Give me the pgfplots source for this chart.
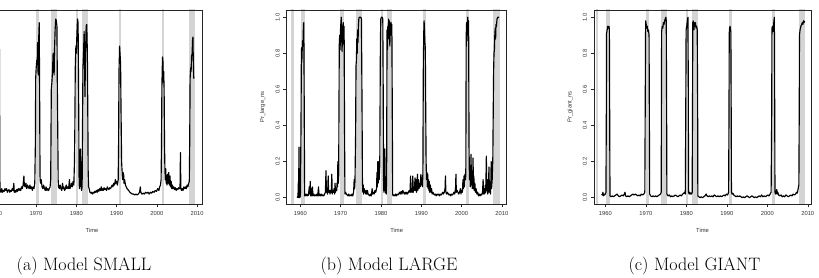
\documentclass[border=0pt]{standalone}
\usepackage{fontspec}
\usepackage{pgfplots}
\pgfplotsset{compat=1.18}
\newfontfamily\rsans{Liberation Sans}
\definecolor{band}{gray}{0.83}
\newcommand\rfont{\rsans\fontsize{5.8}{6.5}\selectfont}
\newcommand\bands{%
\addplot[fill=band, draw=none, forget plot] coordinates {(1957.6,-1) (1957.6,2) (1958.3,2) (1958.3,-1)};
\addplot[fill=band, draw=none, forget plot] coordinates {(1960.25,-1) (1960.25,2) (1961.1,2) (1961.1,-1)};
\addplot[fill=band, draw=none, forget plot] coordinates {(1969.92,-1) (1969.92,2) (1970.83,2) (1970.83,-1)};
\addplot[fill=band, draw=none, forget plot] coordinates {(1973.83,-1) (1973.83,2) (1975.17,2) (1975.17,-1)};
\addplot[fill=band, draw=none, forget plot] coordinates {(1980.0,-1) (1980.0,2) (1980.5,2) (1980.5,-1)};
\addplot[fill=band, draw=none, forget plot] coordinates {(1981.5,-1) (1981.5,2) (1982.83,2) (1982.83,-1)};
\addplot[fill=band, draw=none, forget plot] coordinates {(1990.5,-1) (1990.5,2) (1991.17,2) (1991.17,-1)};
\addplot[fill=band, draw=none, forget plot] coordinates {(2001.17,-1) (2001.17,2) (2001.83,2) (2001.83,-1)};
\addplot[fill=band, draw=none, forget plot] coordinates {(2007.92,-1) (2007.92,2) (2009.42,2) (2009.42,-1)};
}
\pgfplotsset{rpanel/.style={
  scale only axis, width=220pt, height=194pt, anchor=south west,
  ymin=-0.035, ymax=1.04,
  axis on top,
  axis line style={black!85, line width=0.6pt},
  tick align=outside, tick pos=left, major tick length=3.5pt,
  tick style={black!85, line width=0.5pt},
  xtick={1960,1970,1980,1990,2000,2010},
  xticklabels={1960,1970,1980,1990,2000,2010},
  ytick={0,0.2,0.4,0.6,0.8,1},
  yticklabels={0.0,0.2,0.4,0.6,0.8,1.0},
  ticklabel style={font=\rfont, text=black!80},
  yticklabel style={rotate=90, anchor=south},
  xlabel={Time},
  xlabel style={font=\rfont, text=black!80, at={([yshift=-26pt]axis description cs:0.5,0)}, anchor=center},
  ylabel style={font=\rfont, text=black!80, at={([xshift=-24pt]axis description cs:0,0.5)}, anchor=center},
  clip=true,
},
dline/.style={black, line width=1.15pt, line join=round, mark=none}}
\begin{document}
\begin{tikzpicture}
\useasboundingbox (0pt,0pt) rectangle (819pt,278pt);
\clip (0pt,0pt) rectangle (819pt,278pt);
% ---------------- panel (a)
\begin{axis}[rpanel, at={(-18pt,74pt)}, xmin=1956.6, xmax=2011.2, yticklabels={}]
\bands
\addplot[dline] coordinates {
(1959.0,0.05) (1959.5,0.06) (1960.0,0.1) (1960.2,0.5) (1960.3,0.8) (1960.5,0.9) (1960.7,0.95) (1960.9,0.97) (1961.05,0.08)
(1961.1,0.04) (1961.3,0.03) (1961.5,0.05) (1961.7,0.03) (1961.9,0.04) (1962.1,0.035) (1962.3,0.05) (1962.5,0.04) (1962.7,0.05) (1962.9,0.03)
(1963.1,0.04) (1963.3,0.045) (1963.5,0.03) (1963.7,0.04) (1963.9,0.035) (1964.1,0.05) (1964.3,0.04) (1964.5,0.08) (1964.6,0.03) (1964.8,0.04)
(1965.0,0.03) (1965.2,0.045) (1965.4,0.035) (1965.6,0.05) (1965.8,0.04) (1966.0,0.05) (1966.2,0.04) (1966.4,0.06) (1966.6,0.05) (1966.8,0.07)
(1967.0,0.12) (1967.1,0.07) (1967.3,0.06) (1967.5,0.08) (1967.7,0.05) (1967.9,0.07) (1968.1,0.06) (1968.3,0.05) (1968.5,0.07) (1968.7,0.05)
(1968.9,0.06) (1969.1,0.04) (1969.3,0.06) (1969.5,0.05) (1969.7,0.08) (1969.85,0.3)
(1969.92,0.66) (1970.05,0.72) (1970.2,0.76) (1970.3,0.74) (1970.4,0.86) (1970.5,0.7) (1970.6,0.68) (1970.7,0.9) (1970.8,0.97) (1970.9,0.6)
(1971.0,0.12) (1971.1,0.08) (1971.3,0.1) (1971.5,0.06) (1971.7,0.05) (1971.9,0.07) (1972.1,0.05) (1972.3,0.04) (1972.5,0.06) (1972.7,0.04)
(1972.9,0.05) (1973.1,0.04) (1973.3,0.05) (1973.5,0.06) (1973.65,0.1)
(1973.8,0.6) (1973.95,0.64) (1974.1,0.7) (1974.25,0.8) (1974.4,0.76) (1974.5,0.68) (1974.6,0.82) (1974.75,0.93) (1974.9,0.99) (1975.05,0.98)
(1975.2,0.95) (1975.3,0.62) (1975.4,0.38) (1975.5,0.1) (1975.6,0.06) (1975.8,0.05) (1976.0,0.07) (1976.2,0.05) (1976.4,0.04) (1976.6,0.08)
(1976.7,0.05) (1976.9,0.06) (1977.1,0.04) (1977.3,0.05) (1977.5,0.07) (1977.7,0.05) (1977.9,0.06) (1978.1,0.05) (1978.3,0.1) (1978.4,0.05)
(1978.6,0.06) (1978.8,0.08) (1979.0,0.06) (1979.2,0.09) (1979.4,0.07) (1979.55,0.2) (1979.65,0.4)
(1979.75,0.72) (1979.9,0.84) (1980.0,0.8) (1980.15,0.9) (1980.3,0.99) (1980.45,0.97) (1980.6,0.5) (1980.7,0.08) (1980.8,0.05) (1980.95,0.08)
(1981.05,0.27) (1981.15,0.1) (1981.3,0.04) (1981.45,0.06) (1981.55,0.4) (1981.65,0.72) (1981.8,0.8) (1981.95,0.92) (1982.05,0.75) (1982.15,0.56)
(1982.3,0.8) (1982.45,0.95) (1982.6,0.96) (1982.75,0.8) (1982.85,0.5) (1982.95,0.15) (1983.05,0.06) (1983.2,0.05) (1983.4,0.03) (1983.6,0.025)
(1983.8,0.03) (1984.0,0.02) (1984.2,0.03) (1984.4,0.025) (1984.6,0.035) (1984.8,0.03) (1985.0,0.04) (1985.2,0.03) (1985.4,0.045) (1985.6,0.035)
(1985.8,0.05) (1986.0,0.04) (1986.2,0.06) (1986.35,0.04) (1986.5,0.05) (1986.7,0.04) (1986.9,0.055) (1987.1,0.045) (1987.3,0.05) (1987.5,0.04)
(1987.7,0.06) (1987.9,0.05) (1988.1,0.045) (1988.3,0.055) (1988.5,0.05) (1988.7,0.06) (1988.9,0.07) (1989.1,0.06) (1989.3,0.08) (1989.5,0.07)
(1989.7,0.1) (1989.8,0.08) (1990.0,0.09) (1990.2,0.07) (1990.4,0.1) (1990.5,0.3)
(1990.6,0.7) (1990.75,0.84) (1990.85,0.8) (1991.0,0.74) (1991.1,0.5) (1991.25,0.2) (1991.4,0.13) (1991.5,0.1) (1991.6,0.14) (1991.75,0.13)
(1991.85,0.08) (1992.0,0.1) (1992.2,0.07) (1992.4,0.06) (1992.6,0.05) (1992.8,0.045) (1993.0,0.04) (1993.3,0.03) (1993.6,0.025) (1993.9,0.02)
(1994.2,0.02) (1994.5,0.015) (1994.8,0.02) (1995.1,0.015) (1995.4,0.02) (1995.7,0.03) (1995.9,0.06) (1996.0,0.03) (1996.3,0.02) (1996.6,0.025)
(1996.9,0.02) (1997.2,0.03) (1997.5,0.025) (1997.8,0.03) (1998.1,0.02) (1998.4,0.03) (1998.7,0.025) (1999.0,0.035) (1999.3,0.03) (1999.6,0.04)
(1999.9,0.035) (2000.2,0.05) (2000.5,0.04) (2000.7,0.06) (2000.9,0.07) (2001.05,0.1) (2001.15,0.3)
(2001.25,0.62) (2001.4,0.78) (2001.5,0.76) (2001.6,0.64) (2001.7,0.7) (2001.8,0.6) (2001.9,0.3) (2002.0,0.15) (2002.1,0.1) (2002.2,0.16)
(2002.3,0.08) (2002.4,0.12) (2002.5,0.07) (2002.65,0.13) (2002.8,0.08) (2002.95,0.14) (2003.1,0.07) (2003.25,0.12) (2003.4,0.06) (2003.55,0.09)
(2003.7,0.05) (2003.85,0.07) (2004.0,0.05) (2004.2,0.06) (2004.4,0.045) (2004.6,0.055) (2004.8,0.04) (2005.0,0.05) (2005.2,0.045) (2005.4,0.055)
(2005.6,0.05) (2005.75,0.06) (2005.85,0.25) (2005.95,0.05) (2006.1,0.04) (2006.3,0.05) (2006.5,0.04) (2006.7,0.06) (2006.9,0.05) (2007.1,0.06)
(2007.3,0.05) (2007.5,0.07) (2007.7,0.06) (2007.9,0.08) (2008.05,0.09) (2008.15,0.3)
(2008.25,0.66) (2008.4,0.72) (2008.5,0.7) (2008.6,0.78) (2008.75,0.8) (2008.85,0.87) (2008.95,0.89) (2009.05,0.75) (2009.15,0.66)
};
\end{axis}
% ---------------- panel (b)
\begin{axis}[rpanel, at={(286.7pt,74pt)}, xmin=1956.6, xmax=2011.2, ylabel={Pr\_large\_ns}]
\bands
\addplot[dline] coordinates {
(1959.2,0.0) (1959.4,0.01) (1959.5,0.09) (1959.55,0.0) (1959.65,0.28) (1959.75,0.02) (1959.85,0.0) (1960.0,0.01) (1960.15,0.4) (1960.25,0.83)
(1960.35,0.75) (1960.45,0.82) (1960.55,0.87) (1960.65,0.84) (1960.75,0.96) (1960.85,0.97) (1960.95,0.5) (1961.05,0.01) (1961.2,0.02) (1961.4,0.01)
(1961.6,0.02) (1961.8,0.01) (1962.0,0.015) (1962.2,0.06) (1962.3,0.02) (1962.45,0.09) (1962.55,0.01) (1962.7,0.05) (1962.8,0.01) (1963.0,0.06)
(1963.1,0.01) (1963.3,0.02) (1963.5,0.01) (1963.7,0.015) (1963.9,0.01) (1964.1,0.02) (1964.3,0.01) (1964.5,0.06) (1964.6,0.01) (1964.8,0.02)
(1965.0,0.01) (1965.2,0.02) (1965.4,0.01) (1965.6,0.015) (1965.8,0.01) (1966.0,0.02) (1966.2,0.03) (1966.35,0.15) (1966.45,0.03) (1966.6,0.04)
(1966.75,0.02) (1966.9,0.12) (1967.0,0.03) (1967.2,0.04) (1967.35,0.02) (1967.5,0.04) (1967.65,0.03) (1967.8,0.13) (1967.9,0.02) (1968.05,0.04)
(1968.2,0.03) (1968.35,0.05) (1968.5,0.02) (1968.6,0.08) (1968.7,0.03) (1968.85,0.05) (1969.0,0.04) (1969.1,0.08) (1969.2,0.06) (1969.3,0.2)
(1969.4,0.08) (1969.5,0.12)
(1969.65,0.85) (1969.75,0.9) (1969.85,0.82) (1969.95,0.93) (1970.05,0.97) (1970.15,1.0) (1970.25,0.88) (1970.35,0.81) (1970.45,0.95) (1970.55,0.9)
(1970.65,0.97) (1970.75,0.85) (1970.85,0.95) (1970.95,0.4) (1971.05,0.02) (1971.2,0.03) (1971.4,0.02) (1971.6,0.015) (1971.8,0.01) (1972.0,0.02)
(1972.2,0.01) (1972.4,0.015) (1972.6,0.01) (1972.8,0.02) (1973.0,0.01) (1973.2,0.03) (1973.35,0.1) (1973.45,0.05) (1973.55,0.09)
(1973.7,0.35) (1973.8,0.73) (1973.9,0.76) (1974.0,0.88) (1974.1,0.8) (1974.2,0.93) (1974.3,0.86) (1974.4,0.95) (1974.5,0.99) (1974.6,1.0)
(1974.8,1.0) (1975.0,1.0) (1975.15,0.99) (1975.3,0.5) (1975.4,0.08) (1975.5,0.03) (1975.6,0.07) (1975.7,0.02) (1975.85,0.05) (1976.0,0.03)
(1976.1,0.04) (1976.25,0.02) (1976.4,0.04) (1976.5,0.02) (1976.65,0.04) (1976.8,0.02) (1977.0,0.015) (1977.2,0.01) (1977.4,0.02) (1977.6,0.01)
(1977.8,0.05) (1977.9,0.02) (1978.1,0.03) (1978.3,0.02) (1978.5,0.04) (1978.7,0.03) (1978.9,0.05) (1979.0,0.14) (1979.1,0.06) (1979.2,0.2)
(1979.3,0.08) (1979.45,0.2) (1979.55,0.1) (1979.7,0.18)
(1979.85,0.85) (1979.95,0.99) (1980.1,1.0) (1980.3,1.0) (1980.45,0.99) (1980.55,0.6) (1980.65,0.05) (1980.75,0.03) (1980.85,0.1) (1980.95,0.27)
(1981.05,0.1) (1981.15,0.03) (1981.3,0.02) (1981.4,0.1) (1981.5,0.93) (1981.6,0.82) (1981.7,0.95) (1981.8,0.88) (1981.9,0.99) (1982.0,0.92)
(1982.1,0.98) (1982.2,0.84) (1982.3,0.96) (1982.4,0.9) (1982.5,0.97) (1982.6,0.93) (1982.7,0.96) (1982.8,0.5) (1982.9,0.02) (1983.0,0.01)
(1983.2,0.015) (1983.4,0.01) (1983.6,0.02) (1983.8,0.01) (1984.0,0.02) (1984.2,0.015) (1984.4,0.02) (1984.6,0.03) (1984.8,0.02) (1985.0,0.035)
(1985.2,0.02) (1985.4,0.04) (1985.6,0.03) (1985.8,0.02) (1986.0,0.03) (1986.2,0.02) (1986.4,0.03) (1986.6,0.02) (1986.8,0.03) (1987.0,0.04)
(1987.2,0.03) (1987.35,0.12) (1987.45,0.03) (1987.6,0.05) (1987.75,0.03) (1987.9,0.12) (1988.0,0.03) (1988.15,0.06) (1988.3,0.04) (1988.45,0.11)
(1988.55,0.04) (1988.7,0.1) (1988.8,0.03) (1988.95,0.08) (1989.05,0.13) (1989.15,0.04) (1989.3,0.1) (1989.45,0.05) (1989.6,0.08) (1989.75,0.06)
(1989.9,0.13) (1990.0,0.07) (1990.15,0.11) (1990.3,0.06) (1990.4,0.14)
(1990.5,0.7) (1990.6,0.9) (1990.7,0.98) (1990.8,0.92) (1990.9,0.86) (1991.0,0.83) (1991.1,0.5) (1991.2,0.2) (1991.3,0.1) (1991.4,0.14)
(1991.5,0.06) (1991.6,0.13) (1991.7,0.05) (1991.8,0.1) (1991.9,0.04) (1992.0,0.09) (1992.1,0.03) (1992.25,0.07) (1992.4,0.03) (1992.55,0.05)
(1992.7,0.02) (1992.9,0.03) (1993.1,0.02) (1993.3,0.015) (1993.5,0.02) (1993.7,0.01) (1993.9,0.02) (1994.1,0.015) (1994.3,0.02) (1994.5,0.01)
(1994.7,0.02) (1994.9,0.015) (1995.1,0.02) (1995.3,0.03) (1995.5,0.02) (1995.7,0.03) (1995.9,0.05) (1996.0,0.12) (1996.1,0.03) (1996.3,0.02)
(1996.5,0.03) (1996.7,0.02) (1996.9,0.015) (1997.1,0.02) (1997.3,0.01) (1997.5,0.02) (1997.7,0.015) (1997.9,0.02) (1998.1,0.03) (1998.3,0.02)
(1998.5,0.05) (1998.6,0.13) (1998.7,0.03) (1998.9,0.04) (1999.1,0.03) (1999.3,0.02) (1999.5,0.03) (1999.7,0.05) (1999.85,0.02) (2000.0,0.04)
(2000.2,0.03) (2000.35,0.1) (2000.45,0.05) (2000.6,0.12) (2000.7,0.06) (2000.85,0.13) (2000.95,0.1) (2001.05,0.12)
(2001.15,0.9) (2001.25,0.97) (2001.35,0.87) (2001.45,0.96) (2001.55,1.0) (2001.65,0.9) (2001.75,0.98) (2001.85,0.3) (2001.95,0.1) (2002.05,0.15)
(2002.15,0.06) (2002.25,0.13) (2002.35,0.24) (2002.45,0.07) (2002.55,0.14) (2002.65,0.05) (2002.75,0.1) (2002.85,0.22) (2002.95,0.05) (2003.05,0.12)
(2003.15,0.04) (2003.3,0.08) (2003.45,0.03) (2003.6,0.05) (2003.8,0.02) (2004.0,0.03) (2004.2,0.01) (2004.4,0.02) (2004.6,0.01) (2004.8,0.02)
(2005.0,0.015) (2005.2,0.03) (2005.35,0.1) (2005.45,0.02) (2005.6,0.05) (2005.75,0.02) (2005.9,0.07) (2006.0,0.03) (2006.15,0.23) (2006.25,0.04)
(2006.4,0.1) (2006.5,0.02) (2006.65,0.04) (2006.8,0.17) (2006.9,0.03) (2007.05,0.06) (2007.2,0.02) (2007.35,0.2) (2007.45,0.05) (2007.6,0.1)
(2007.75,0.21) (2007.95,0.7) (2008.05,0.8) (2008.15,0.82) (2008.25,0.9) (2008.35,0.94) (2008.45,0.88) (2008.55,0.96) (2008.65,0.95) (2008.8,0.99)
(2009.0,1.0) (2009.3,1.0)
};
\end{axis}
% ---------------- panel (c)
\begin{axis}[rpanel, at={(594pt,74pt)}, width=217pt, xmin=1957.2, xmax=2010.8, ylabel={Pr\_giant\_ns}]
\bands
\addplot[dline] coordinates {
(1959.1,0.02) (1959.25,0.015) (1959.4,0.03) (1959.5,0.01) (1959.65,0.02) (1959.8,0.015) (1960.0,0.02) (1960.15,0.03) (1960.25,0.5) (1960.3,0.91)
(1960.45,0.93) (1960.6,0.95) (1960.75,0.94) (1960.9,0.95) (1961.0,0.93) (1961.1,0.3) (1961.15,0.01) (1961.4,0.005) (1961.7,0.01) (1962.0,0.005)
(1962.3,0.01) (1962.6,0.015) (1962.9,0.02) (1963.2,0.01) (1963.5,0.005) (1963.8,0.01) (1964.1,0.015) (1964.4,0.01) (1964.7,0.02) (1964.85,0.03)
(1965.0,0.01) (1965.3,0.005) (1965.6,0.01) (1965.9,0.005) (1966.2,0.01) (1966.5,0.015) (1966.8,0.02) (1967.1,0.015) (1967.4,0.02) (1967.7,0.015)
(1968.0,0.01) (1968.3,0.015) (1968.6,0.01) (1968.9,0.02) (1969.2,0.015) (1969.5,0.02) (1969.75,0.03) (1969.85,0.5) (1969.95,0.98) (1970.1,0.96)
(1970.2,0.94) (1970.35,0.95) (1970.5,0.92) (1970.65,0.93) (1970.8,0.9) (1970.9,0.3) (1970.95,0.02) (1971.2,0.01) (1971.5,0.005) (1971.8,0.01)
(1972.1,0.005) (1972.4,0.01) (1972.7,0.005) (1973.0,0.01) (1973.3,0.015) (1973.6,0.02) (1973.8,0.03) (1973.85,0.5) (1973.9,0.92) (1974.05,0.95)
(1974.2,0.94) (1974.35,0.97) (1974.5,0.96) (1974.65,0.98) (1974.8,0.99) (1974.95,1.0) (1975.05,0.98) (1975.15,0.4) (1975.2,0.02) (1975.5,0.01)
(1975.8,0.015) (1976.1,0.005) (1976.4,0.01) (1976.7,0.005) (1977.0,0.01) (1977.3,0.015) (1977.6,0.01) (1977.9,0.005) (1978.2,0.01) (1978.5,0.015)
(1978.8,0.01) (1979.1,0.02) (1979.4,0.025) (1979.6,0.03) (1979.75,0.02) (1979.85,0.4) (1979.95,0.93) (1980.1,0.95) (1980.25,0.98) (1980.4,1.0)
(1980.5,0.6) (1980.55,0.03) (1980.7,0.02) (1980.85,0.03) (1981.0,0.02) (1981.15,0.025) (1981.3,0.02) (1981.45,0.03) (1981.55,0.6) (1981.6,0.97)
(1981.7,0.98) (1981.8,0.94) (1981.9,0.93) (1982.0,0.97) (1982.1,0.95) (1982.25,0.97) (1982.4,0.94) (1982.55,0.95) (1982.7,0.93) (1982.8,0.5)
(1982.85,0.01) (1983.1,0.005) (1983.4,0.0) (1983.7,0.005) (1984.0,0.0) (1984.3,0.005) (1984.6,0.01) (1984.9,0.02) (1985.1,0.01) (1985.4,0.005)
(1985.7,0.01) (1986.0,0.005) (1986.3,0.01) (1986.6,0.005) (1986.9,0.015) (1987.2,0.01) (1987.5,0.005) (1987.8,0.01) (1988.1,0.005) (1988.4,0.01)
(1988.7,0.005) (1989.0,0.01) (1989.3,0.015) (1989.6,0.01) (1989.9,0.02) (1990.2,0.015) (1990.45,0.03) (1990.55,0.5) (1990.6,0.91) (1990.7,0.94)
(1990.8,0.95) (1990.9,0.93) (1991.0,0.92) (1991.1,0.4) (1991.15,0.03) (1991.3,0.02) (1991.5,0.025) (1991.7,0.015) (1992.0,0.01) (1992.3,0.005)
(1992.6,0.01) (1992.9,0.005) (1993.2,0.01) (1993.5,0.005) (1993.8,0.0) (1994.1,0.005) (1994.4,0.0) (1994.7,0.005) (1995.0,0.01) (1995.3,0.005)
(1995.6,0.0) (1995.9,0.005) (1996.2,0.01) (1996.5,0.005) (1996.8,0.0) (1997.1,0.005) (1997.4,0.0) (1997.7,0.005) (1998.0,0.01) (1998.3,0.005)
(1998.6,0.015) (1998.9,0.005) (1999.2,0.01) (1999.5,0.005) (1999.8,0.01) (2000.1,0.015) (2000.4,0.01) (2000.7,0.02) (2000.95,0.03) (2001.1,0.5)
(2001.15,0.94) (2001.3,0.95) (2001.4,0.92) (2001.5,0.93) (2001.6,0.97) (2001.75,1.0) (2001.85,0.4) (2001.9,0.03) (2002.05,0.02) (2002.2,0.03)
(2002.35,0.045) (2002.45,0.02) (2002.6,0.03) (2002.8,0.015) (2003.1,0.01) (2003.4,0.015) (2003.7,0.005) (2004.0,0.01) (2004.3,0.005) (2004.6,0.015)
(2004.9,0.01) (2005.2,0.005) (2005.5,0.01) (2005.8,0.015) (2006.1,0.01) (2006.4,0.02) (2006.7,0.015) (2007.0,0.02) (2007.2,0.03) (2007.4,0.025)
(2007.55,0.04) (2007.7,0.06) (2007.8,0.07) (2007.9,0.5) (2007.95,0.9) (2008.1,0.93) (2008.3,0.95) (2008.5,0.96) (2008.65,0.97) (2008.8,0.96)
(2008.95,0.98) (2009.1,0.97) (2009.2,0.98)
};
\end{axis}
\node[anchor=base, font=\fontsize{18}{21}\selectfont] at (84pt,7.5pt) {(a) Model SMALL};
\node[anchor=base, font=\fontsize{18}{21}\selectfont] at (389pt,7.5pt) {(b) Model LARGE};
\node[anchor=base, font=\fontsize{18}{21}\selectfont] at (694.5pt,7.5pt) {(c) Model GIANT};
\end{tikzpicture}
\end{document}
